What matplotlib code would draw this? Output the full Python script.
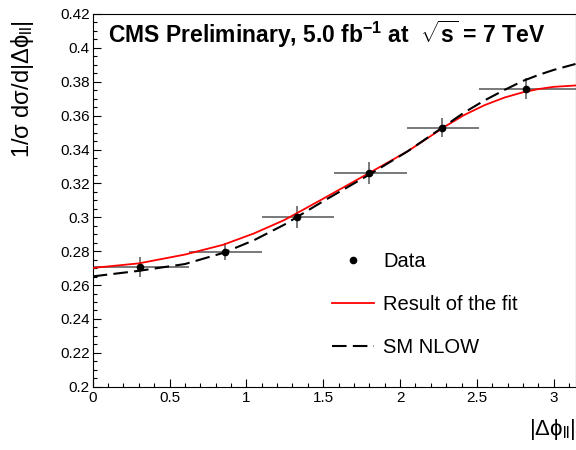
import numpy as np
import matplotlib
matplotlib.use("Agg")
import matplotlib.pyplot as plt
from matplotlib.lines import Line2D
from matplotlib.ticker import MultipleLocator, FuncFormatter

plt.rcParams['font.family'] = ['Liberation Sans', 'DejaVu Sans']
plt.rcParams['mathtext.fontset'] = 'custom'
plt.rcParams['mathtext.rm'] = 'Liberation Sans'
plt.rcParams['mathtext.it'] = 'Liberation Sans:italic'
plt.rcParams['mathtext.bf'] = 'Liberation Sans:bold'

# data
bin_edges = [0.0, 0.628, 1.10, 1.571, 2.042, 2.513, 3.1416]
data_x = [0.31, 0.86, 1.33, 1.80, 2.27, 2.82]
data_y = [0.2707, 0.2797, 0.2999, 0.3260, 0.3530, 0.3760]
data_err = [0.0060, 0.0052, 0.0065, 0.0065, 0.0054, 0.0060]

curve_x = [0.0, 0.3, 0.6, 0.85, 1.05, 1.25, 1.5, 1.8, 2.05, 2.3, 2.42, 2.55,
           2.68, 2.8, 2.9, 3.0, 3.1416]
fit_y = [0.2701, 0.2728, 0.2780, 0.2838, 0.2905, 0.2985, 0.3110, 0.3262, 0.3390,
         0.3540, 0.3605, 0.3662, 0.3707, 0.3738, 0.3757, 0.3770, 0.3778]
sm_y = [0.2651, 0.2684, 0.2724, 0.2790, 0.2865, 0.2958, 0.3095, 0.3252, 0.3390,
        0.3545, 0.3620, 0.3690, 0.3752, 0.3805, 0.3840, 0.3870, 0.3905]

W, H = 576, 450
fig = plt.figure(figsize=(W / 100, H / 100), dpi=100)
ax = fig.add_axes([92.7 / W, 1 - 386.7 / H, (575.5 - 92.7) / W, (386.7 - 14) / H])

lo = np.array(bin_edges[:-1])
hi = np.array(bin_edges[1:])
xc = np.array(data_x)
ax.errorbar(data_x, data_y, yerr=data_err, xerr=[xc - lo, hi - xc], fmt='none',
            ecolor='#555555', elinewidth=1.1, capsize=0, zorder=2)
ax.plot(curve_x, fit_y, color='red', lw=1.3, zorder=3)
ax.plot(curve_x, sm_y, color='black', lw=1.5, dashes=(7, 3), zorder=3)
ax.plot(data_x, data_y, 'o', color='black', ms=4.5, zorder=4)

ax.set_xlim(0, np.pi)
ax.set_ylim(0.2, 0.42)
ax.xaxis.set_major_locator(MultipleLocator(0.5))
ax.xaxis.set_minor_locator(MultipleLocator(0.1))
ax.yaxis.set_major_locator(MultipleLocator(0.02))
ax.yaxis.set_minor_locator(MultipleLocator(0.005))
fmt = FuncFormatter(lambda v, p: '%g' % round(v, 3))
ax.xaxis.set_major_formatter(fmt)
ax.yaxis.set_major_formatter(fmt)
ax.tick_params(which='both', direction='in', top=False, right=False, labelsize=11)
ax.tick_params(which='major', length=6, width=0.8)
ax.tick_params(which='minor', length=3, width=0.8)
ax.tick_params(axis='y', pad=2)
ax.tick_params(axis='x', pad=3)

ax.text(108 / W, 1 - 43 / H,
        r"CMS Preliminary, 5.0 fb$^{\mathbf{-1}}$ at  $\sqrt{\mathbf{s}}$ = 7 TeV",
        transform=fig.transFigure, fontsize=16.5, fontweight='bold', va='baseline')

fig.text(1.0, 1 - 430 / H, r"|Δϕ$_{\mathrm{ll}}$|", fontsize=16,
         ha='right', va='center')
fig.text(22 / W, 1 - 20 / H, r"1/σ dσ/d|Δϕ$_{\mathrm{ll}}$|",
         fontsize=17, rotation=90, ha='center', va='top')

handles = [Line2D([], [], ls='none', marker='o', color='black', ms=4.5),
           Line2D([], [], color='red', lw=1.3),
           Line2D([], [], color='black', lw=1.5, dashes=(7, 3))]
ax.legend(handles, ['Data', 'Result of the fit', 'SM NLOW'], frameon=False,
          loc='upper left', bbox_to_anchor=(332 / W, 1 - 252 / H),
          bbox_transform=fig.transFigure, fontsize=14.5, borderpad=0,
          borderaxespad=0, handlelength=2.07, handletextpad=0.48, labelspacing=1.2)

fig.savefig('out.png', dpi=100)
